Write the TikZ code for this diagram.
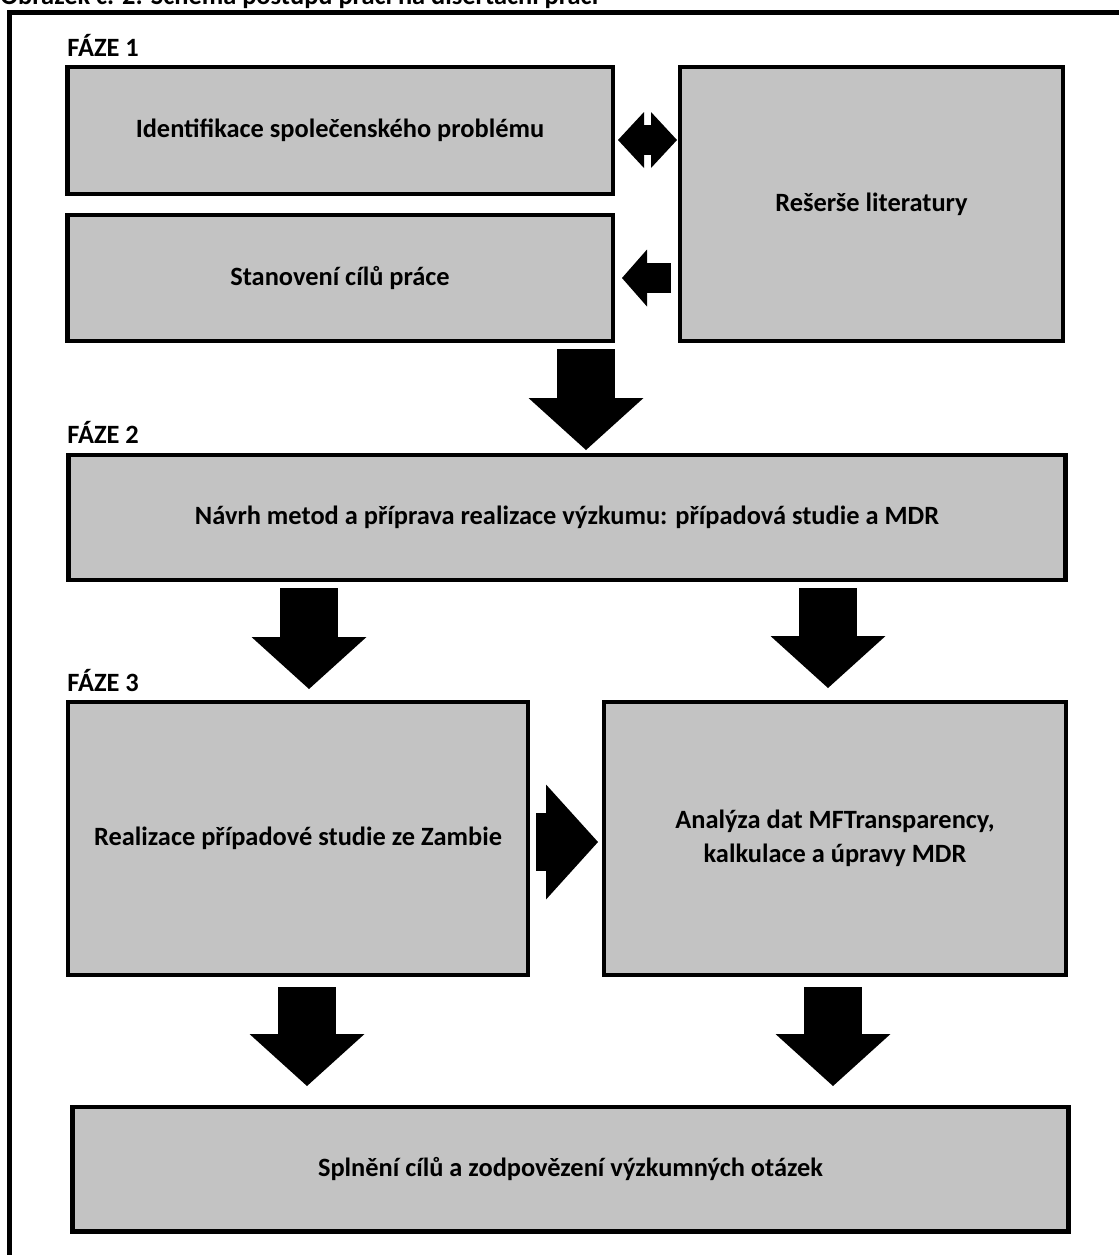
\documentclass[tikz,border=0pt]{standalone}
\usepackage{fontspec}
\setmainfont{Carlito}
\usepackage{tikz}
\usetikzlibrary{arrows.meta}
\definecolor{boxgray}{HTML}{C3C3C3}

\begin{document}
\begin{tikzpicture}[x=0.5pt, y=-0.5pt,
        stepbox/.style={rectangle, draw=black, fill=boxgray, line
        width=2.25pt, inner sep=0pt, align=center,
        font=\bfseries\fontsize{13.2}{17}\selectfont},
        phaselabel/.style={anchor=west, inner sep=0pt,
        font=\bfseries\fontsize{13.2}{16}\selectfont},
        bigarrow/.style={line width=29pt, -{Triangle[length=26pt,
        width=57.5pt, line width'=0pt]}},
        smallarrow/.style={line width=15pt, -{Triangle[length=12.5pt,
        width=28.5pt, line width'=0pt]}},
        bothways/.style={line width=15pt, {Triangle[length=13pt,
        width=28pt, line width'=0pt]}-{Triangle[length=13pt, width=28pt,
        line width'=0pt]}},
      ]
      \useasboundingbox (0,0) rectangle (1119,1255);

      % Caption and outer frame (both cut by the page edge)
      \node[anchor=base west, inner sep=0pt,
      font=\bfseries\fontsize{13.2}{16}\selectfont] (caption) at (0,4)
      {Obrázek č. 2: Schéma postupu prací na disertační práci};
      \draw[line width=2.5pt] (9.5,1300) -- (9.5,12.5) -- (1160,12.5);

      % Phase 1
      \node[phaselabel] (phase1) at (67,45) {FÁZE 1};
      \node[stepbox, minimum width=272.75pt, minimum height=63.5pt]
      (problem) at (340,130.5) {Identifikace společenského problému};
      \node[stepbox, minimum width=272.75pt, minimum height=63pt]
      (goals) at (340,278) {Stanovení cílů práce};
      \node[stepbox, minimum width=191.5pt, minimum height=137pt]
      (lit) at (871.5,204) {Rešerše literatury};

      \coordinate (swapL) at (618,140);
      \coordinate (swapR) at (677,140);
      \draw[bothways] (swapL) -- (swapR);
      \coordinate (litout) at (671,278);
      \coordinate (goalsin) at (622,278);
      \draw[smallarrow] (litout) -- (goalsin);

      \coordinate (ph1out) at (586,349);
      \coordinate (ph2in) at (586,450);
      \draw[bigarrow] (ph1out) -- (ph2in);

      % Phase 2
      \node[phaselabel] (phase2) at (67,432) {FÁZE 2};
      \node[stepbox, minimum width=498.5pt, minimum height=62.5pt]
      (design) at (567,517.5)
      {Návrh metod a příprava realizace výzkumu: případová studie a MDR};

      \coordinate (designL) at (309,588);
      \coordinate (caseIn) at (309,689);
      \draw[bigarrow] (designL) -- (caseIn);
      \coordinate (designR) at (828,588);
      \coordinate (dataIn) at (828,688);
      \draw[bigarrow] (designR) -- (dataIn);

      % Phase 3
      \node[phaselabel] (phase3) at (67,680) {FÁZE 3};
      \node[stepbox, minimum width=230pt, minimum height=136.5pt]
      (casestudy) at (298,838.5) {Realizace případové studie ze Zambie};
      \node[stepbox, minimum width=231pt, minimum height=136.5pt]
      (analysis) at (835,838.5)
      {Analýza dat MFTransparency,\\kalkulace a úpravy MDR};

      \coordinate (caseOut) at (536,842);
      \coordinate (dataLeft) at (598,842);
      \draw[bigarrow] (caseOut) -- (dataLeft);

      \coordinate (caseDown) at (307,987);
      \coordinate (endL) at (307,1086);
      \draw[bigarrow] (caseDown) -- (endL);
      \coordinate (dataDown) at (833,987);
      \coordinate (endR) at (833,1086);
      \draw[bigarrow] (dataDown) -- (endR);

      \node[stepbox, minimum width=498pt, minimum height=62.25pt]
      (answers) at (570.5,1169)
      {Splnění cílů a zodpovězení výzkumných otázek};
    \end{tikzpicture}
\end{document}
